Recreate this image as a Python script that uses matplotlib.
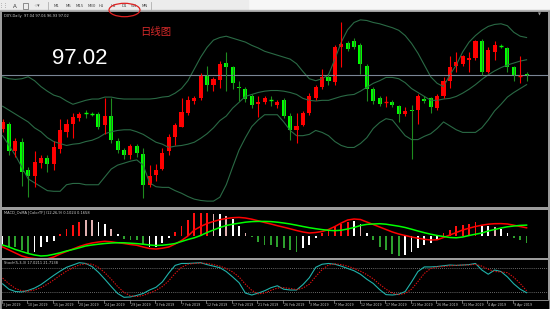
import matplotlib
matplotlib.use('Agg')
import matplotlib.pyplot as plt
from matplotlib.patches import Rectangle, Ellipse

W, H = 550, 309

# ---------------- data ----------------
date_labels = ["3 Jan 2019", "10 Jan 2019", "15 Jan 2019", "20 Jan 2019", "24 Jan 2019",
               "29 Jan 2019", "3 Feb 2019", "7 Feb 2019", "12 Feb 2019", "17 Feb 2019",
               "21 Feb 2019", "26 Feb 2019", "3 Mar 2019", "7 Mar 2019", "12 Mar 2019",
               "17 Mar 2019", "21 Mar 2019", "26 Mar 2019", "31 Mar 2019", "4 Apr 2019",
               "9 Apr 2019"]

opens = [96.19, 96.27, 95.85, 95.99, 95.57, 95.47, 95.68, 95.75, 95.66, 95.89,
         96.15, 96.27, 96.36, 96.44, 96.43, 96.42, 96.25, 96.39, 96.01, 95.87,
         95.79, 95.93, 95.81, 95.34, 95.49, 95.58, 95.85, 96.07, 96.23, 96.44,
         96.62, 96.67, 97.01, 96.87, 96.94, 97.20, 97.14, 96.84, 96.81, 96.69,
         96.57, 96.60, 96.64, 96.56, 96.63, 96.39, 96.17, 96.26, 96.43, 96.67,
         96.83, 96.98, 96.91, 97.45, 97.51, 97.54, 97.48, 97.16, 96.81, 96.66,
         96.60, 96.61, 96.54, 96.42, 96.49, 96.49, 96.65, 96.66, 96.52, 96.69,
         96.93, 97.15, 97.19, 97.25, 97.27, 97.54, 97.06, 97.37, 97.47, 97.43,
         97.14, 97.00, 97.04]
highs = [96.35, 96.30, 96.06, 96.06, 95.61, 95.85, 95.80, 95.80, 96.01, 96.35,
         96.35, 96.43, 96.45, 96.49, 96.45, 96.45, 96.66, 96.66, 96.06, 95.90,
         95.97, 95.97, 95.90, 95.64, 95.65, 95.90, 96.11, 96.28, 96.66, 96.69,
         96.69, 97.05, 97.16, 96.99, 97.23, 97.37, 97.16, 96.93, 96.84, 96.72,
         96.69, 96.69, 96.69, 96.64, 96.66, 96.43, 96.43, 96.47, 96.74, 96.86,
         97.11, 97.03, 97.48, 97.82, 97.53, 97.58, 97.51, 97.19, 96.84, 96.69,
         96.69, 96.63, 96.56, 96.53, 96.56, 96.72, 96.69, 96.68, 96.72, 96.98,
         97.30, 97.37, 97.32, 97.37, 97.55, 97.56, 97.45, 97.53, 97.49, 97.45,
         97.16, 97.31, 97.06]
lows = [96.14, 95.79, 95.77, 95.32, 95.15, 95.30, 95.60, 95.54, 95.56, 95.82,
        96.07, 96.06, 96.32, 96.36, 96.39, 96.19, 96.12, 95.98, 95.83, 95.74,
        95.74, 95.77, 95.13, 95.30, 95.39, 95.56, 95.79, 95.95, 96.22, 96.40,
        96.58, 96.64, 96.77, 96.77, 96.82, 96.77, 96.80, 96.62, 96.60, 96.51,
        96.38, 96.57, 96.55, 96.52, 96.36, 96.02, 95.98, 96.24, 96.40, 96.64,
        96.80, 96.87, 96.87, 97.14, 97.38, 97.42, 97.03, 96.62, 96.57, 96.54,
        96.53, 96.53, 96.30, 96.39, 95.74, 96.27, 96.59, 96.44, 96.49, 96.66,
        96.82, 97.06, 97.15, 97.06, 97.25, 97.01, 97.05, 97.24, 97.43, 97.06,
        96.93, 96.90, 96.93]
closes = [96.30, 95.85, 96.01, 95.54, 95.47, 95.69, 95.75, 95.66, 95.91, 96.17,
          96.27, 96.38, 96.42, 96.43, 96.42, 96.23, 96.39, 96.02, 95.87, 95.79,
          95.93, 95.82, 95.34, 95.48, 95.57, 95.82, 96.07, 96.25, 96.45, 96.64,
          96.66, 97.02, 96.87, 96.95, 97.18, 97.14, 96.90, 96.82, 96.65, 96.56,
          96.60, 96.66, 96.63, 96.61, 96.39, 96.17, 96.24, 96.44, 96.69, 96.83,
          96.99, 96.93, 97.45, 97.49, 97.41, 97.45, 97.19, 96.80, 96.62, 96.57,
          96.61, 96.56, 96.42, 96.47, 96.47, 96.69, 96.62, 96.53, 96.69, 96.93,
          97.14, 97.22, 97.30, 97.28, 97.53, 97.06, 97.40, 97.48, 97.46, 97.14,
          97.01, 97.01, 97.02]

bb_upper = [96.99, 96.96, 96.95, 96.96, 96.99, 96.93, 96.84, 96.77, 96.71, 96.68,
            96.62, 96.57, 96.60, 96.63, 96.65, 96.65, 96.68, 96.68, 96.66, 96.65,
            96.65, 96.65, 96.65, 96.65, 96.66, 96.68, 96.69, 96.74, 96.81, 96.93,
            97.11, 97.29, 97.44, 97.55, 97.59, 97.61, 97.58, 97.55, 97.52, 97.47,
            97.43, 97.38, 97.35, 97.32, 97.29, 97.26, 97.19, 97.07, 96.96, 96.93,
            96.96, 97.02, 97.26, 97.52, 97.71, 97.82, 97.86, 97.85, 97.82, 97.80,
            97.77, 97.74, 97.70, 97.62, 97.50, 97.35, 97.17, 96.99, 96.89, 96.84,
            97.02, 97.17, 97.37, 97.52, 97.62, 97.70, 97.76, 97.79, 97.80, 97.77,
            97.67, 97.61, 97.59]
bb_middle = [96.54, 96.48, 96.42, 96.36, 96.30, 96.21, 96.15, 96.06, 96.00, 95.97,
             95.94, 95.96, 95.97, 96.00, 96.02, 96.06, 96.12, 96.15, 96.17, 96.18,
             96.18, 96.15, 96.11, 96.05, 95.99, 95.96, 95.91, 95.93, 95.94, 95.96,
             95.99, 96.05, 96.12, 96.21, 96.32, 96.39, 96.51, 96.60, 96.69, 96.72,
             96.75, 96.77, 96.78, 96.78, 96.77, 96.75, 96.72, 96.66, 96.63, 96.62,
             96.63, 96.63, 96.66, 96.69, 96.71, 96.72, 96.77, 96.83, 96.89, 96.93,
             96.98, 96.98, 96.96, 96.90, 96.81, 96.75, 96.69, 96.63, 96.63, 96.65,
             96.66, 96.69, 96.74, 96.80, 96.87, 96.95, 97.02, 97.08, 97.13, 97.17,
             97.20, 97.23, 97.25]
bb_lower = [96.09, 95.94, 95.79, 95.61, 95.43, 95.37, 95.31, 95.25, 95.24, 95.24,
            95.34, 95.36, 95.36, 95.34, 95.34, 95.34, 95.46, 95.58, 95.64, 95.67,
            95.70, 95.72, 95.64, 95.37, 95.31, 95.30, 95.30, 95.25, 95.21, 95.16,
            95.12, 95.10, 95.09, 95.09, 95.15, 95.34, 95.61, 95.87, 96.06, 96.23,
            96.33, 96.41, 96.41, 96.41, 96.30, 96.17, 96.09, 96.09, 96.11, 96.17,
            96.14, 96.09, 96.00, 95.94, 95.91, 95.91, 95.97, 96.06, 96.20, 96.29,
            96.35, 96.33, 96.21, 96.09, 96.03, 96.03, 96.08, 96.12, 96.20, 96.30,
            96.24, 96.18, 96.14, 96.14, 96.14, 96.21, 96.33, 96.47, 96.57, 96.68,
            96.75, 96.81, 96.87]
last_price = 97.02

osma = [-0.088, -0.105, -0.105, -0.140, -0.175, -0.158, -0.105, -0.063, -0.053, 0.018,
        0.070, 0.112, 0.140, 0.158, 0.158, 0.140, 0.123, 0.070, 0.018, -0.028,
        -0.035, -0.042, -0.088, -0.105, -0.105, -0.070, -0.018, 0.042, 0.105, 0.158,
        0.235, 0.235, 0.235, 0.220, 0.220, 0.200, 0.175, 0.105, 0.035, -0.010,
        -0.063, -0.088, -0.088, -0.105, -0.123, -0.140, -0.158, -0.123, -0.088, -0.018,
        0.035, 0.070, 0.105, 0.123, 0.140, 0.150, 0.123, 0.035, -0.035, -0.105,
        -0.140, -0.175, -0.200, -0.193, -0.158, -0.123, -0.088, -0.070, -0.035, 0.028,
        0.063, 0.105, 0.112, 0.123, 0.140, 0.098, 0.105, 0.088, 0.070, 0.035,
        -0.018, -0.035, -0.070]
osma_state = "wggggwwwwrrrrppwwpwggggwwwwrrrrrrpwpwwpggggggggwwwrrrrrwpwgggggwwwwwwrrrrrrwwpwwggg"
macd_line = [-0.110, -0.140, -0.170, -0.200, -0.217, -0.225, -0.230, -0.228, -0.210, -0.180,
             -0.155, -0.130, -0.105, -0.085, -0.070, -0.060, -0.053, -0.058, -0.067, -0.075,
             -0.085, -0.093, -0.110, -0.125, -0.130, -0.122, -0.110, -0.080, -0.045, 0.000,
             0.060, 0.095, 0.125, 0.145, 0.163, 0.175, 0.183, 0.186, 0.180, 0.168,
             0.152, 0.135, 0.120, 0.103, 0.088, 0.072, 0.055, 0.040, 0.030, 0.035,
             0.045, 0.065, 0.095, 0.130, 0.160, 0.170, 0.165, 0.140, 0.115, 0.090,
             0.065, 0.040, 0.020, 0.005, -0.010, -0.022, -0.033, -0.040, -0.038, -0.015,
             0.010, 0.035, 0.060, 0.078, 0.095, 0.108, 0.118, 0.123, 0.124, 0.120,
             0.108, 0.095, 0.082]
signal_line = [-0.090, -0.110, -0.135, -0.155, -0.175, -0.190, -0.200, -0.196, -0.183, -0.168,
               -0.150, -0.135, -0.118, -0.100, -0.090, -0.082, -0.075, -0.070, -0.067, -0.068,
               -0.072, -0.076, -0.082, -0.090, -0.095, -0.092, -0.085, -0.075, -0.055, -0.035,
               -0.018, 0.005, 0.035, 0.060, 0.085, 0.105, 0.118, 0.128, 0.138, 0.144,
               0.146, 0.146, 0.144, 0.138, 0.130, 0.120, 0.108, 0.095, 0.083, 0.073,
               0.064, 0.057, 0.053, 0.058, 0.070, 0.085, 0.105, 0.116, 0.120, 0.123,
               0.118, 0.108, 0.098, 0.085, 0.068, 0.050, 0.033, 0.018, 0.005, -0.005,
               -0.015, -0.018, -0.010, 0.005, 0.018, 0.030, 0.050, 0.065, 0.080, 0.092,
               0.100, 0.106, 0.109]

stoch_main = [40, 26, 20, 19, 23, 29, 38, 50, 62, 73, 83, 89, 95, 93, 85, 70, 52, 33, 15, 5,
              6, 10, 15, 24, 31, 45, 68, 88, 93, 93, 94, 95, 90, 86, 82, 72, 58, 43, 16, 11,
              16, 22, 30, 35, 26, 24, 24, 38, 56, 83, 91, 93, 91, 86, 80, 74, 65, 52, 41, 25,
              12, 11, 13, 20, 45, 72, 84, 84, 85, 87, 89, 88, 89, 90, 93, 76, 65, 76, 72, 58,
              40, 26, 17]
stoch_signal = [55, 40, 28, 22, 21, 24, 30, 39, 50, 62, 73, 82, 89, 92, 91, 83, 69, 52, 33, 18,
                9, 7, 10, 16, 23, 33, 48, 67, 83, 91, 93, 94, 93, 90, 86, 80, 71, 58, 39, 23,
                14, 16, 23, 29, 30, 28, 25, 29, 39, 59, 77, 89, 92, 90, 86, 80, 73, 64, 53, 39,
                26, 16, 12, 15, 26, 46, 67, 80, 84, 85, 87, 88, 89, 89, 91, 86, 78, 72, 71, 69,
                57, 41, 22]
stoch_levels = [80, 20]

timeframes = ["M1", "M5", "M15", "M30", "H1", "H4", "D1", "W1", "MN"]

# ---------------- layout helpers ----------------
def rect(x0, y0, x1, y1):
    return [x0 / W, 1 - y1 / H, (x1 - x0) / W, (y1 - y0) / H]


def clean(a):
    a.set_facecolor('black')
    a.set_xticks([])
    a.set_yticks([])
    for s in a.spines.values():
        s.set_visible(False)


BAR0, STEP = 2.6, 6.39          # pixel position of first bar and bar spacing
XL = ((2 - BAR0) / STEP, (548 - BAR0) / STEP)

fig = plt.figure(figsize=(W / 100, H / 100), dpi=100, facecolor='#F7F7F7')

# background / frame axes (pixel coordinates)
bg = fig.add_axes([0, 0, 1, 1])
bg.set_xlim(0, W); bg.set_ylim(H, 0); bg.axis('off')
bg.add_patch(Rectangle((0, 0), 248, 10.5, color='#ECECEC'))
bg.add_patch(Rectangle((0, 10.3), W, 0.8, color='#B8B8B8'))
bg.add_patch(Rectangle((0, 11.1), W, H - 11.1, color='#9C9C9C'))
bg.add_patch(Rectangle((2, 300), 546, 9, color='black'))

# toolbar
tb_x = [57, 68, 80, 92, 101, 113, 124, 134, 145]
for lab, x in zip(timeframes, tb_x):
    bg.text(x, 6, lab, fontsize=2.8, color='#444444', ha='center', va='center')
for x in [48, 151]:
    bg.plot([x, x], [2, 10], color='#B0B0B0', lw=0.6)
bg.text(4, 6, '⋮⋮', fontsize=3.5, color='#666666', ha='center', va='center')
bg.text(14.5, 6, 'A', fontsize=4, color='#333333', ha='center', va='center')
bg.add_patch(Rectangle((22.5, 3), 5, 5.5, fill=False, ec='#666666', lw=0.5))
bg.text(36, 6, '⁘▾', fontsize=3.5, color='#555555', ha='center', va='center')

# ---------------- main price panel ----------------
ax = fig.add_axes(rect(2, 12, 548, 207))
clean(ax)
idx = list(range(len(closes)))
ax.plot(idx, bb_upper, color='#2A6A45', lw=0.8)
ax.plot(idx, bb_middle, color='#2A6A45', lw=0.8)
ax.plot(idx, bb_lower, color='#2A6A45', lw=0.8)
ax.axhline(last_price, color='#7A8595', lw=0.8)
for i, (o, h, l, c) in enumerate(zip(opens, highs, lows, closes)):
    up = c >= o
    body_col = '#FF0000' if up else '#00FF00'
    wick_col = '#FF0000' if up else '#1E8C1E'
    ax.vlines(i, l, h, color=wick_col, lw=0.8)
    lo, hi = min(o, c), max(o, c)
    if hi - lo < 0.012:
        ax.hlines((o + c) / 2, i - 0.32, i + 0.32, color=body_col, lw=1.0)
    else:
        ax.bar(i, hi - lo, bottom=lo, width=0.64, color=body_col, lw=0)
ax.set_xlim(*XL)
ax.set_ylim(95.00, 97.98)

# ---------------- MACD panel ----------------
am = fig.add_axes(rect(2, 209.5, 548, 257.5))
clean(am)
cmap = {'g': '#2DA02D', 'w': '#FFFFFF', 'r': '#FF1010', 'p': '#E0B0B0'}
am.bar(idx, osma, width=0.28, color=[cmap[s] for s in osma_state], lw=0)
am.plot(idx, macd_line, color='#FF0000', lw=1.1)
am.plot(idx, signal_line, color='#00FF00', lw=1.1)
am.set_xlim(*XL)
am.set_ylim((236 - 257.5) * 0.01, (236 - 209.5) * 0.01)

# ---------------- Stochastic panel ----------------
ast = fig.add_axes(rect(2, 260, 548, 300))
clean(ast)
for lv in stoch_levels:
    ast.axhline(lv, color='#8A8A8A', lw=0.6, ls=(0, (1, 1.5)))
ast.plot(idx, stoch_main, color='#20B2AA', lw=0.8)
ast.plot(idx, stoch_signal, color='#E01010', lw=0.8, ls=(0, (1.2, 1.2)))
ast.set_xlim(*XL)
ast.set_ylim(-2, 102)

# ---------------- date axis ----------------
bg.plot([2, 548], [300.3, 300.3], color='#9C9C9C', lw=0.6)
for k, lab in enumerate(date_labels):
    x = BAR0 + STEP * 4 * k - 0.8
    bg.plot([x, x], [300.3, 302.5], color='#9C9C9C', lw=0.5)
    bg.text(x + 1.0, 305, lab, fontsize=2.3, color='#C8C8C8', ha='left', va='center')

# ---------------- overlay texts ----------------
ov = fig.add_axes([0, 0, 1, 1])
ov.set_xlim(0, W); ov.set_ylim(H, 0); ov.axis('off')
ov.patch.set_alpha(0)
ov.text(4, 15.5, 'DXY,Daily  97.04 97.06 96.93 97.02', fontsize=2.6, color='#D0D0D0',
        ha='left', va='center')
ov.text(4, 212.5, 'MACD_OsMA [ColorTF] (12,26,9) 0.1024 0.1658', fontsize=2.6,
        color='#D0D0D0', ha='left', va='center')
ov.text(4, 263, 'Stoch(5,3,3) 17.0211 21.7138', fontsize=2.6, color='#D0D0D0',
        ha='left', va='center')
ov.text(52, 64.5, '97.02', fontsize=16, color='white', ha='left', va='baseline',
        family='Liberation Sans')
ov.text(140, 31.5, '日线图', fontsize=7.5, color='#D42A2A', ha='left', va='center',
        family=['Noto Sans CJK SC', 'DejaVu Sans'])
ov.text(539, 14, '▼', fontsize=2.8, color='#A0A0A0', ha='center', va='center')
ov.add_patch(Ellipse((124.5, 10), 31, 13.4, fill=False, ec='#E02020', lw=0.9))

fig.savefig('out.png', dpi=100, facecolor=fig.get_facecolor())
